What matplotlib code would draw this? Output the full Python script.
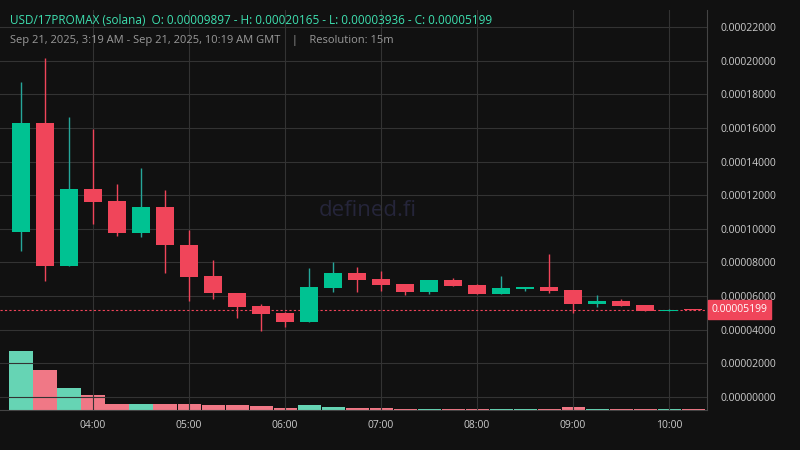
import matplotlib
matplotlib.use("Agg")
import matplotlib.pyplot as plt
import numpy as np

plt.rcParams['font.family'] = ['Open Sans', 'DejaVu Sans']

times = ["03:15","03:30","03:45","04:00","04:15","04:30","04:45","05:00","05:15","05:30","05:45",
         "06:00","06:15","06:30","06:45","07:00","07:15","07:30","07:45","08:00","08:15","08:30",
         "08:45","09:00","09:15","09:30","09:45","10:00","10:15"]
opens  = [98.3,162.7,78.1,123.7,116.3,97.7,113.0,90.6,71.9,62.0,54.1,49.8,44.8,65.0,73.7,70.2,67.2,62.6,69.6,66.6,61.4,64.4,65.4,63.6,55.5,57.1,54.7,51.3,52.0]
highs  = [187.3,201.7,166.3,159.2,126.6,136.2,123.1,99.3,81.5,62.0,55.3,50.7,76.7,80.3,77.3,74.9,67.2,69.6,70.9,67.2,72.1,65.4,85.0,63.6,60.6,58.3,54.7,52.3,52.1]
lows   = [87.0,69.2,78.1,102.7,95.9,95.3,73.9,57.3,58.5,47.2,39.4,41.8,44.8,62.6,62.6,63.2,60.8,61.4,66.2,61.4,61.4,63.2,62.0,50.1,53.7,54.0,51.3,50.9,51.9]
closes = [162.7,78.1,123.7,116.1,97.7,113.0,90.6,71.5,62.0,53.7,49.5,44.8,65.4,73.7,69.8,66.8,62.6,69.6,66.2,61.4,64.8,65.4,63.2,55.5,57.1,54.3,51.3,52.0,51.99]
volumes = [59,40,22,15,6,6,6,6,5,5,4,2,5,3,2,2,1,1,1,1,1.5,1,1,3,1.5,1.5,1.5,1,1]

yticks = [0,20,40,60,80,100,120,140,160,180,200,220]
xlabels = ["04:00","05:00","06:00","07:00","08:00","09:00","10:00"]

BG = "#111111"
UP = "#00c292"
DN = "#f0455a"

fig = plt.figure(figsize=(8, 4.5), dpi=100, facecolor=BG)
ax = fig.add_axes([0, 40/450, 707/800, 400/450])
ax.set_facecolor(BG)
axv = ax.twinx()
axv.set_zorder(0)
ax.set_zorder(1)
ax.patch.set_visible(False)
axv.set_facecolor(BG)

scale = 1e-6
x = np.arange(len(times))
o = np.array(opens)*scale; c = np.array(closes)*scale
h = np.array(highs)*scale; l = np.array(lows)*scale
up = c >= o
cols = np.where(up, UP, DN)
ax.vlines(x, l, h, colors=np.where(up, "#26a69a", DN), linewidth=1, zorder=3)
bot = np.minimum(o, c); hgt = np.maximum(np.abs(c-o), 0.4e-6)
ax.bar(x, hgt, bottom=bot, width=0.78, color=cols, zorder=4)

axv.bar(x, volumes, width=0.96, color=np.where(up, "#66d4b4", "#f07886"), zorder=1)
axv.set_ylim(0, 400)
axv.axis('off')

ax.set_xlim(-0.875, 28.58)
ymin = (0.22e-3)*(397-410)/370
ymax = (0.22e-3)*(397-10)/370
ax.set_ylim(ymin, ymax)
ax.set_yticks(np.array(yticks)*scale)
ax.set_yticklabels([f"{v*scale:.8f}" for v in yticks])
ax.yaxis.tick_right()
ax.tick_params(axis='y', colors="#cccccc", labelsize=7.5, length=0, pad=10)
ax.set_yticks(np.array(yticks)*scale)
xt = [times.index(t) for t in xlabels]
ax.set_xticks(xt)
ax.set_xticklabels(xlabels)
ax.tick_params(axis='x', colors="#cccccc", labelsize=7.5, length=0, pad=7)
ax.grid(True, color="#333333", linewidth=0.8)
for s in ax.spines.values():
    s.set_visible(False)
ax.spines['right'].set_visible(True); ax.spines['right'].set_color("#444444")
ax.spines['bottom'].set_visible(True); ax.spines['bottom'].set_color("#444444")

last = closes[-1]*scale
ax.axhline(last, color=DN, linestyle=(0, (2, 2)), linewidth=0.8, zorder=2)
ax.annotate(f"{closes[-1]*scale:.8f}", xy=(1.0, last), xycoords=('axes fraction', 'data'),
            xytext=(3, 0), textcoords='offset points', va='center', ha='left', fontsize=7.5,
            color="white", bbox=dict(boxstyle="square,pad=0.35", fc=DN, ec=DN), annotation_clip=False)

ax.text(0.52, 0.5, "defined.fi", transform=ax.transAxes, fontsize=16, color="#25253a",
        ha='center', va='center', zorder=0)

fig.text(10/800, 1-20/450, "USD/17PROMAX (solana)  O: 0.00009897 - H: 0.00020165 - L: 0.00003936 - C: 0.00005199",
         color="#3ee0b0", fontsize=8.5, va='center')
fig.text(10/800, 1-41/450, "Sep 21, 2025, 3:19 AM - Sep 21, 2025, 10:19 AM GMT    |    Resolution: 15m",
         color="#999999", fontsize=8, va='center')

fig.savefig("out.png", dpi=100, facecolor=BG)
